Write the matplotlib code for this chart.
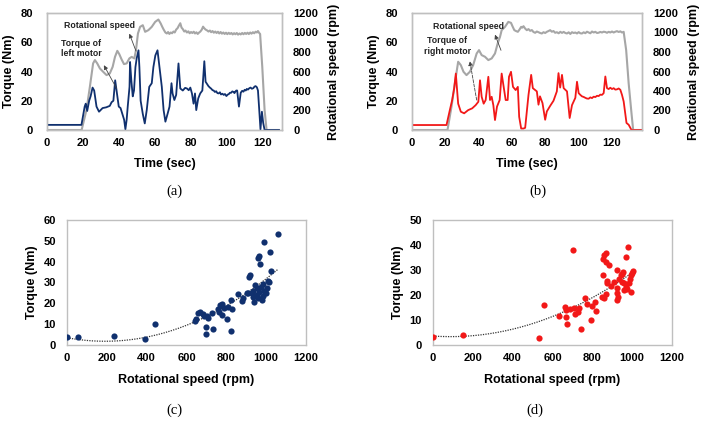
import numpy as np
import matplotlib
matplotlib.use("Agg")
import matplotlib.pyplot as plt

# ---- (a) left motor: time series ----
t_left_torque = [0, 19.2, 20, 21, 21.6, 22.4, 23.5, 24.3, 25.4, 26.3, 27.6, 29, 31, 33, 35, 36, 37,
                 38, 39, 40, 41, 42, 43, 43.7, 44.4, 45, 46, 46.3, 47, 47.8, 48.5, 49.3, 50, 51,
                 51.5, 52.2, 53.4, 54.5, 55.6, 57, 58.4, 59.3, 60.4, 61.6, 62.7, 64, 65, 66, 67.2,
                 68.3, 69.4, 70, 71, 72, 73.3, 74.3, 75.7, 77, 78, 79, 79.9, 80.8, 81.7, 82.5, 83.2,
                 84.3, 85.4, 86.6, 87.7, 88.4, 89.2, 90, 90.8, 91.5, 92.3, 92.9, 93.6, 94.3, 95,
                 95.7, 96.4, 97, 97.8, 98.5, 99.2, 100, 100.7, 101.3, 102, 102.6, 103.3, 104,
                 104.5, 105, 105.5, 106, 107, 108, 108.8, 109.5, 110.2, 110.8, 111.4, 112, 112.8,
                 113.5, 114.2, 115, 115.7, 116.3, 117, 117.6, 118.3, 119, 119.8, 120.5, 121.3, 129.3]
left_torque = [3.5, 3.5, 9, 16, 18, 13, 20, 23, 29, 27, 16, 12.5, 15, 15.5, 16.5, 19, 20,
               34, 25, 16, 15, 11, 7, 0.5, 7, 16, 29.5, 46.5, 34, 23, 27, 43, 49, 54.5,
               43, 20, 11, 4.5, 13.6, 29.5, 32, 43, 51, 54.5, 43, 29.5, 13.6, 5.7, 11,
               16, 32, 25, 20.5, 24, 45.5, 28.4, 27, 28.8, 28.4, 27.2, 29, 25, 18, 25, 13.6,
               21.6, 25, 27, 47, 33, 31.5, 30, 29, 28.3, 27.2, 27, 26, 26.5, 25.2,
               25, 25.8, 24.3, 24.8, 24, 24.6, 23.2, 24.2, 24.5, 25.5, 25.4, 26.4, 26,
               25.2, 26.3, 27, 27, 16, 25.5, 26.8, 26.2, 27.5, 27, 28.1, 27.6, 28.6,
               29, 28.2, 28.6, 29.7, 30, 29.2, 27, 14, 0.5, 12.5, 5, 0, 0]

t_left_speed = [0, 19.3, 22, 23.9, 25.7, 26.7, 28, 29.5, 31.3, 33.2, 35, 36.6, 37.9, 39.2, 40.3,
                41.6, 42.9, 44.4, 45.9, 47.2, 48.7, 49.6, 50.7, 51.9, 53.4, 54.7, 56.5, 58.4,
                60.3, 62.1, 63.4, 64.2, 65, 66, 66.8, 67.5, 68.2, 69, 69.7, 70.5, 71.2, 72, 72.8,
                73.5, 74.3, 75, 75.7, 76.5, 77.2, 78, 78.8, 79.5, 80.3, 81, 81.8, 82.5, 83.3, 84,
                84.8, 85.5, 86.3, 87, 87.6, 88.4, 89.2, 90, 90.8, 91.5, 92.3, 93, 93.8, 94.5, 95.3,
                96, 96.8, 97.5, 98.3, 99, 99.8, 100.5, 101.3, 102, 102.8, 103.5, 104.3, 105,
                105.8, 106.5, 107.3, 108, 108.8, 109.5, 110.3, 111, 111.8, 112.5, 113.3, 114,
                114.8, 115.5, 116.3, 117, 117.6, 118.3, 118.8, 120, 121.3, 122.4, 129.3]
left_speed = [0, 0, 205, 443, 683, 717, 683, 631, 597, 563, 580, 648, 750, 812, 778,
              723, 676, 683, 734, 750, 734, 819, 990, 1058, 1075, 1007, 1024, 1058,
              1109, 1133, 1092, 1060, 1031, 1000, 990, 1005, 985, 1000, 992, 1010, 1000, 1030,
              1045, 1070, 1095, 1050, 1035, 1010, 1020, 1000, 1012, 992, 1005, 995, 1008, 990,
              1002, 985, 1000, 1010, 1030, 1060, 1045, 1030, 1022, 1010, 1020, 1003, 1015, 998,
              1010, 995, 1008, 990, 1005, 988, 1000, 985, 998, 983, 997, 985, 995, 980, 993,
              982, 995, 978, 990, 980, 995, 982, 996, 985, 998, 984, 1000, 988, 1003, 992, 1008,
              1000, 1015, 995, 985, 648, 205, 0, 0]

# ---- (b) right motor: time series ----
t_right_torque = [0, 20.7, 22.7, 24.1, 25.3, 26.3, 26.9, 27.7, 29.3, 31.3, 33.7, 36.1, 38.2, 39.8,
                  40.8, 41.8, 43, 44.2, 45.8, 46.8, 47.8, 48.8, 49.8, 51, 52.6, 53.8, 55, 56.2,
                  57.4, 58.2, 59.4, 60.6, 62.2, 63.5, 64.3, 65.5, 66.9, 67.9, 69.9, 71.5, 72.5,
                  74.9, 75.9, 76.8, 78.3, 79.9, 80.9, 82.9, 84.9, 86.9, 87.9, 88.9, 90, 91, 93,
                  94.6, 96, 98, 99, 100, 101, 102, 103, 104, 105, 106, 107, 108, 109, 110, 111,
                  112, 113, 114, 115, 116, 117, 118, 119, 120, 121, 122, 123, 124, 125, 126, 127,
                  128.7, 130, 131.7, 138]
right_torque = [3.4, 3.4, 13.6, 20.5, 28.4, 38.6, 29.5, 18, 12.5, 11.4, 13.6, 14.8, 17, 19.3,
                34, 22.7, 18, 20.5, 36.4, 20.5, 22.7, 17, 6.8, 16, 20.5, 38.6, 29.5, 20.5,
                20.5, 36.4, 39.8, 29.5, 27.3, 29.5, 9, 1, 1, 1.5, 24, 37.7, 28.6,
                26.4, 17.3, 23, 18.4, 7, 12.7, 16.5, 20, 26.4, 38.9, 29, 37.7, 28.6, 26.4,
                8.2, 17, 22, 33, 25.2, 24, 23, 22.6, 22, 21.5, 21.4, 22.3, 21.8, 22.8, 22.5,
                23.4, 23.2, 24.2, 24, 25.2, 36.6, 28.6, 28, 28.9, 28, 28.6, 27.6, 27.8, 28.4,
                27.5, 24, 19.5, 4.8, 3.6, 0, 0]

t_right_speed = [0, 21.3, 23.7, 25.7, 27.7, 29.3, 30.9, 32.7, 34.7, 36.7, 38.8, 40.2, 41.8, 43.8,
                 45.8, 47.8, 49.8, 51.4, 52.8, 53.8, 55.8, 57.8, 59.4, 60.4, 61.4, 62.4, 63.5,
                 64.5, 65.5, 66.2, 66.9, 67.9, 68.9, 69.9, 70.9, 71.9, 72.9, 73.9, 74.9, 75.9,
                 76.9, 77.9, 78.9, 79.9, 80.9, 81.9, 82.9, 83.9, 84.9, 85.9, 86.9, 88, 89, 90, 91,
                 92, 93, 94, 95, 96, 97, 98, 99, 100, 101, 102, 103, 104, 105, 106, 107, 108, 109,
                 110, 111, 112, 113, 114, 115, 116, 117, 118, 119, 120, 121, 122, 123, 124, 125,
                 126, 127, 128.5, 130, 131.7, 132.7, 138]
right_speed = [0, 0, 239, 478, 700, 665, 597, 563, 597, 665, 785, 819, 768, 751,
               717, 734, 785, 887, 955, 1024, 1058, 1109, 1099, 1060, 1024, 1015, 1007, 1030,
               1058, 1050, 1065, 1040, 1024, 1035, 1017, 1025, 1005, 997, 1010, 1003, 995,
               990, 1003, 995, 1007, 1015, 1024, 1008, 1015, 997, 1003, 992, 1007, 996, 1006,
               995, 990, 1002, 985, 1003, 995, 1000, 990, 1004, 992, 990, 1002, 993, 1008, 1000,
               992, 1010, 1000, 1007, 995, 998, 1006, 1000, 1008, 1005, 997, 1007, 1000, 1010,
               1000, 1008, 1014, 1005, 1012, 1000, 1007, 819, 478, 171, 0, 0]

# ---- (c) left motor: torque vs speed ----
left_rpm = [0, 55, 237, 394, 441, 643, 648, 660, 668, 681, 688, 701, 710, 698, 732, 696, 727,
            760, 769, 780, 789, 765, 777, 802, 822, 810, 827, 822, 857, 878, 883, 911, 920, 916,
            936, 944, 953, 961, 965, 970, 990, 1017, 1024, 1057, 941, 953, 966, 975, 983, 990,
            997, 1003, 1007, 978, 936, 928, 903, 961, 986, 1012]
left_nm = [3.5, 3.5, 4.0, 2.7, 10, 11.3, 12.1, 15.4, 15.8, 14.5, 13.8, 13.8, 12.9, 8.5, 7.4, 5.1,
           15.4, 17.1, 19, 19.3, 17.4, 15.8, 14.2, 12.5, 6.4, 18.2, 17.1, 21.4, 24.3, 20.9, 22.5,
           24.9, 33.5, 32.3, 25.7, 28.6, 27, 41.5, 42.5, 38.8, 49.6, 44.7, 35.6, 53.3, 20.6, 23.8,
           25.4, 27.8, 29, 25.7, 24.6, 27, 30.6, 21.4, 23, 24.6, 24.9, 22.5, 23.5, 29.9]
# dotted trend line
left_trend_rpm = [0, 250, 650, 1057]
left_trend_nm = [3.4, 1.4, 11.5, 36]

# ---- (d) right motor: torque vs speed ----
right_rpm = [0, 153, 533, 558, 633, 662, 667, 667, 672, 688, 705, 708, 712, 728, 733, 742, 765,
             775, 792, 800, 812, 817, 850, 858, 853, 867, 872, 858, 867, 855, 867, 883, 875, 892,
             908, 922, 925, 933, 942, 950, 955, 958, 967, 922, 925, 930, 958, 975, 992, 967, 978,
             983, 988, 995, 1000, 1005, 950]
right_nm = [3.1, 4.0, 2.7, 15.8, 11.5, 15.1, 13.8, 11, 8.4, 14.2, 37.9, 14.7, 12.1, 13.1, 14.5,
            6.4, 18.8, 16.1, 10, 15.5, 17.2, 13.4, 19.2, 18.5, 27.9, 20.1, 25.6, 35.9, 36.6, 34.2,
            33.2, 31.9, 24.5, 23.6, 24.9, 29.9, 22.5, 26.5, 27.9, 28.5, 29.2, 24.5, 23.2, 17.8,
            20.5, 19.2, 21.8, 22.2, 21.2, 35.2, 39.3, 24.5, 26.5, 27.9, 28.8, 29.5, 24.9]
right_trend_rpm = [0, 153, 625, 1005]
right_trend_nm = [3.1, 3.75, 11.8, 29.2]

NAVY = '#10306e'
RED = '#f21818'
GRAY = '#a6a6a6'
FRAME = '#bfbfbf'
SANS = 'Liberation Sans'

plt.rcParams['font.family'] = SANS

W, H = 711, 423
fig = plt.figure(figsize=(W / 100, H / 100), dpi=100)


def box(x0, x1, y0, y1):
    # pixel box -> figure fractions
    return [x0 / W, 1 - y1 / H, (x1 - x0) / W, (y1 - y0) / H]


def style(ax):
    for s in ax.spines.values():
        s.set_color(FRAME)
        s.set_linewidth(1)
    ax.tick_params(length=0, labelsize=8)
    for lab in ax.get_xticklabels() + ax.get_yticklabels():
        lab.set_fontweight('bold')


def time_panel(rect, xmax, tq_t, tq, sp_t, sp, color, motor, ann, tag, tag_x):
    ax = fig.add_axes(rect)
    ax2 = ax.twinx()
    ax2.plot(sp_t, sp, color=GRAY, lw=1.5)
    ax.plot(tq_t, tq, color=color, lw=1.3)
    ax.set_zorder(ax2.get_zorder() + 1)
    ax.patch.set_visible(False)

    ax.set_xlim(0, xmax)
    ax.set_ylim(0, 80)
    ax2.set_ylim(0, 1200)
    ax.set_xticks(range(0, 121, 20))
    ax.set_yticks(range(0, 81, 20))
    ax2.set_yticks(range(0, 1201, 200))
    ax.tick_params(axis='y', pad=10)
    ax.tick_params(axis='x', pad=6)
    ax2.tick_params(axis='y', pad=8)
    style(ax)
    style(ax2)

    ax.set_xlabel('Time (sec)', fontsize=9, fontweight='bold', labelpad=7)
    ax.set_ylabel('Torque (Nm)', fontsize=9, fontweight='bold', labelpad=4)
    ax2.set_ylabel('Rotational speed (rpm)', fontsize=9, fontweight='bold', labelpad=7)

    # annotations
    (rs_xy, rs_head, rs_tail, tq_xy, tq_head, tq_tail, tq_ls) = ann
    ax.text(*rs_xy, 'Rotational speed', fontsize=6.3, fontweight='bold',
            ha='left', va='center', color='#222222')
    ax.text(*tq_xy, 'Torque of\n' + motor, fontsize=6.3, fontweight='bold',
            ha='center', va='center', color='#222222', linespacing=1.25)
    ax.annotate('', xy=rs_head, xytext=rs_tail,
                arrowprops=dict(arrowstyle='-|>', color='#444444', lw=0.6,
                                mutation_scale=6, shrinkA=0, shrinkB=0))
    ax.annotate('', xy=tq_head, xytext=tq_tail,
                arrowprops=dict(arrowstyle='-|>', color='#444444', lw=0.6, ls=tq_ls,
                                mutation_scale=6, shrinkA=0, shrinkB=0))

    fig.text(tag_x / W, 1 - 191 / H, tag, family='Liberation Serif', fontsize=10.5,
             ha='center', va='center')
    return ax


def scatter_panel(rect, xs, ys, trend_x, trend_y, color, ymax, tag, tag_x):
    ax = fig.add_axes(rect)
    ax.scatter(xs, ys, s=20, color=color, zorder=3, linewidths=0)
    coef = np.polyfit(trend_x, trend_y, 2)
    xx = np.linspace(0, max(xs), 200)
    ax.plot(xx, np.polyval(coef, xx), ls=(0, (1, 1)), color='#333333', lw=0.9, zorder=2)
    ax.set_xlim(0, 1200)
    ax.set_ylim(0, ymax)
    ax.set_xticks(range(0, 1201, 200))
    ax.set_yticks(range(0, ymax + 1, 10))
    ax.tick_params(axis='y', pad=8)
    ax.tick_params(axis='x', pad=6)
    style(ax)
    ax.set_xlabel('Rotational speed (rpm)', fontsize=9, fontweight='bold', labelpad=8)
    ax.set_ylabel('Torque (Nm)', fontsize=9, fontweight='bold', labelpad=4)
    fig.text(tag_x / W, 1 - 410 / H, tag, family='Liberation Serif', fontsize=10.5,
             ha='center', va='center')
    return ax


time_panel(box(47, 282, 13, 130), 131, t_left_torque, left_torque, t_left_speed, left_speed,
           NAVY, 'left motor',
           ((9.5, 71.6), (45.9, 65.9), (49.6, 54), (19.2, 55.7), (31.7, 44.3), (38.8, 28.4), '-'),
           '(a)', 174)
time_panel(box(412, 642, 13, 130), 138, t_right_torque, right_torque, t_right_speed, right_speed,
           RED, 'right motor',
           ((12.7, 70.5), (49.8, 65.2), (53.4, 54.5), (21.1, 57.2), (34.7, 47), (38.8, 20.5), '--'),
           '(b)', 538)
scatter_panel(box(67, 306, 220, 344.5), left_rpm, left_nm, left_trend_rpm, left_trend_nm,
              NAVY, 60, '(c)', 174)
scatter_panel(box(433, 672, 220, 344.5), right_rpm, right_nm, right_trend_rpm, right_trend_nm,
              RED, 50, '(d)', 535)

plt.savefig('out.png', dpi=100)
